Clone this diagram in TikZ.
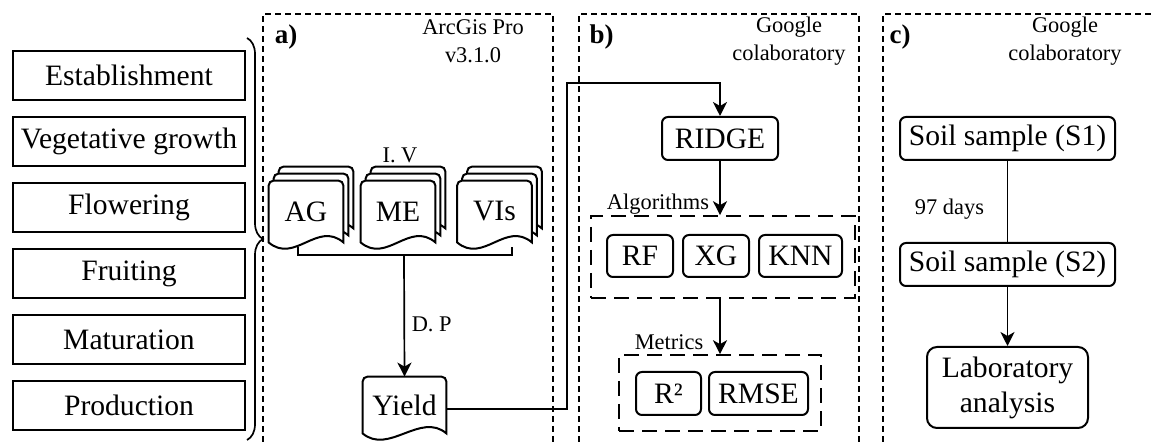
\documentclass[tikz,border=0pt]{standalone}
\usepackage{fontspec}
\setmainfont{Liberation Serif}
\usetikzlibrary{arrows.meta,decorations.pathreplacing,backgrounds}

\newcommand{\docshape}[3]{%
  \draw[docline] ([xshift=#2,yshift=#3]#1.south west) [rounded corners=2.5pt]
    -- ([xshift=#2,yshift=#3]#1.north west) -- ([xshift=#2,yshift=#3]#1.north east) [sharp corners]
    -- ([xshift=#2,yshift=#3]#1.south east) .. controls +(-26,-22) and +(26,22) .. ([xshift=#2,yshift=#3]#1.south west) -- cycle;}

\begin{document}
\begin{tikzpicture}[x=0.5pt, y=-0.5pt, >={Stealth[length=7pt,width=7pt,inset=2pt]},
	every node/.style={font=\fontsize{14.8}{17.5}\selectfont},
	stagebox/.style={draw, line width=1pt, minimum width=116pt, minimum height=24.5pt, inner sep=0pt},
	procbox/.style={draw, line width=1pt, rounded corners=3pt, minimum height=21.5pt, inner sep=0pt},
	groupbox/.style={draw, line width=0.8pt, dash pattern=on 7.5pt off 4pt},
	docnode/.style={minimum width=37pt, minimum height=30.5pt, inner sep=0pt},
	docline/.style={draw, fill=white, line width=1pt},
	panel/.style={line width=0.7pt, dash pattern=on 3pt off 2pt},
	link/.style={line width=0.85pt},
	small/.style={font=\fontsize{11.2}{14}\selectfont},
	tag/.style={font=\fontsize{13.5}{16}\selectfont\bfseries}]
	\useasboundingbox (0,0) rectangle (1153,442);

	\draw[panel] (263,442) |- (553,14) -- (553,442);
	\draw[panel] (579,442) |- (859,14) -- (859,442);
	\draw[panel] (883,442) |- (1153,14);
	\node[tag] (taga) at (286,37) {a)};
	\node[tag] (tagb) at (601.5,37) {b)};
	\node[tag] (tagc) at (900,37) {c)};
	\node[small, align=center] (arcgis) at (473,41) {ArcGis Pro\\v3.1.0};
	\node[small, align=center] (colabb) at (789,41) {Google\\colaboratory};
	\node[small, align=center] (colabc) at (1065,41) {Google\\colaboratory};

	\foreach \stage [count=\i] in {Establishment, Vegetative growth, Flowering, Fruiting, Maturation, Production}
		\node[stagebox] (stage\i) at (129,9.5+66*\i) {\stage};
	\draw[link, decorate, decoration={brace, amplitude=8pt}] (247,38) -- (247,440);

	\node[docnode] (AG) at (306,211.5) {AG};
	\node[docnode] (ME) at (398,211.5) {ME};
	\node[docnode] (VIs) at (494.5,211.5) {VIs};
	\node[small] (iv) at (400,155) {I. V};
	\node[docnode, minimum width=41.5pt, minimum height=28pt] (yield) at (404.5,405) {Yield};
	\begin{pgfonlayer}{background}
		\foreach \d in {AG,ME,VIs} {
			\docshape{\d}{5pt}{7pt}
			\docshape{\d}{2.5pt}{3.5pt}
			\docshape{\d}{0pt}{0pt}
		}
		\docshape{yield}{0pt}{0pt}
	\end{pgfonlayer}
	\coordinate (join) at (404,255);
	\draw[link] ([xshift=-4pt,yshift=-2.5pt]AG.south) |- (join) -| ([xshift=8.75pt,yshift=-2.5pt]VIs.south);
	\draw[link, ->] (join) -- node[small, right, pos=0.57] (dp) {D. P} (yield.north);

	\node[procbox, minimum width=58pt] (ridge) at (720,138.5) {RIDGE};
	\node[groupbox, minimum width=132pt, minimum height=41pt] (algbox) at (723,257) {};
	\node[small] (alglabel) at (658,204) {Algorithms};
	\node[procbox, minimum width=33pt, minimum height=21pt] (rf) at (640,256) {RF};
	\node[procbox, minimum width=33pt, minimum height=21pt] (xg) at (716,256) {XG};
	\node[procbox, minimum width=41.5pt, minimum height=21pt] (knn) at (800.5,256) {KNN};
	\node[groupbox, minimum width=101pt, minimum height=38pt] (metbox) at (720,393) {};
	\node[small] (metlabel) at (669,342) {Metrics};
	\node[procbox, minimum width=32.5pt] (r2) at (668.5,393.5) {R²};
	\node[procbox, minimum width=49.5pt] (rmse) at (758.5,393.5) {RMSE};
	\coordinate (turn) at (567,83);
	\draw[link, ->] ([yshift=-2pt]yield.east) -| (turn) -| (ridge.north);
	\draw[link, ->] (ridge.south) -- (ridge.south |- algbox.north);
	\draw[link, ->] (metbox.north |- algbox.south) -- (metbox.north);

	\node[procbox, minimum width=107.5pt] (s1) at (1007.5,138.5) {Soil sample (S1)};
	\node[procbox, minimum width=107.5pt] (s2) at (1007.5,264.5) {Soil sample (S2)};
	\node[procbox, rounded corners=5pt, minimum width=80.5pt, minimum height=40.5pt, align=center] (lab) at (1007.5,387.5) {Laboratory\\analysis};
	\draw[link] (s1) -- node[small, left=8pt, pos=0.6] (days) {97 days} (s2);
	\draw[link, ->] (s2) -- (lab);
\end{tikzpicture}
\end{document}
